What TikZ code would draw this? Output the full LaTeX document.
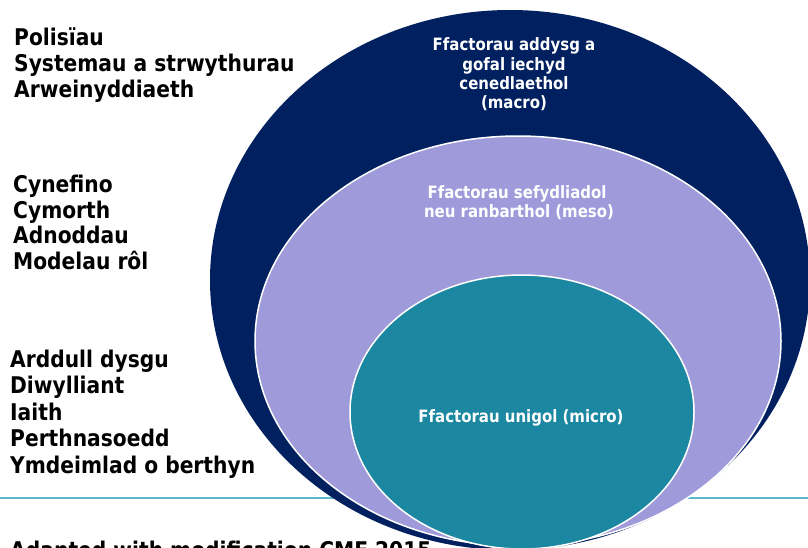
\documentclass[tikz,border=0pt]{standalone}
\usepackage{fontspec}
\setmainfont{DejaVu Sans}[FakeStretch=0.88]
\definecolor{navyc}{HTML}{002060}
\definecolor{lavc}{HTML}{9F9BDB}
\definecolor{tealc}{HTML}{1B87A0}
\definecolor{linec}{HTML}{5BB9CB}
\tikzset{
  lbl/.style={anchor=base west, inner sep=0pt, font=\bfseries\fontsize{23}{26}\selectfont, text=black},
  inlbl/.style={anchor=base, inner sep=0pt, font=\bfseries\fontsize{17}{19}\selectfont, text=white},
}
\begin{document}
\begin{tikzpicture}[x=1pt,y=-1pt]
\useasboundingbox (0,0) rectangle (808,547);
\clip (0,0) rectangle (808,547);
\fill[white] (0,0) rectangle (808,547);
% separator line
\coordinate (la) at (0,498);
\coordinate (lb) at (808,498);
\draw[linec, line width=2pt] (la) -- (lb);
% ellipses
\fill[navyc] (510,280) ellipse [x radius=300pt, y radius=270pt];
\filldraw[fill=lavc, draw=white, line width=1.5pt] (518,341) ellipse [x radius=263pt, y radius=205pt];
\filldraw[fill=tealc, draw=white, line width=1.5pt] (522,412) ellipse [x radius=172pt, y radius=137pt];
% left labels
\node[lbl] (a1) at (14,45) {Polisïau};
\node[lbl] (a2) at (14,71) {Systemau a strwythurau};
\node[lbl] (a3) at (14,97) {Arweinyddiaeth};
\node[lbl] (b1) at (13,192) {Cynefino};
\node[lbl] (b2) at (13,218) {Cymorth};
\node[lbl] (b3) at (13,243) {Adnoddau};
\node[lbl] (b4) at (13,269) {Modelau rôl};
\node[lbl] (c1) at (10,367) {Arddull dysgu};
\node[lbl] (c2) at (10,393.5) {Diwylliant};
\node[lbl] (c3) at (10,420) {Iaith};
\node[lbl] (c4) at (10,446.5) {Perthnasoedd};
\node[lbl] (c5) at (10,473) {Ymdeimlad o berthyn};
\node[lbl] (src) at (10,558) {Adapted with modification CME 2015};
% inner labels
\node[inlbl] (m1) at (514,50) {Ffactorau addysg a};
\node[inlbl] (m2) at (514,70) {gofal iechyd};
\node[inlbl] (m3) at (514,89) {cenedlaethol};
\node[inlbl] (m4) at (514,108) {(macro)};
\node[inlbl] (s1) at (517,198) {Ffactorau sefydliadol};
\node[inlbl] (s2) at (519,217) {neu ranbarthol (meso)};
\node[inlbl] (u1) at (521,422) {Ffactorau unigol (micro)};
\end{tikzpicture}
\end{document}
